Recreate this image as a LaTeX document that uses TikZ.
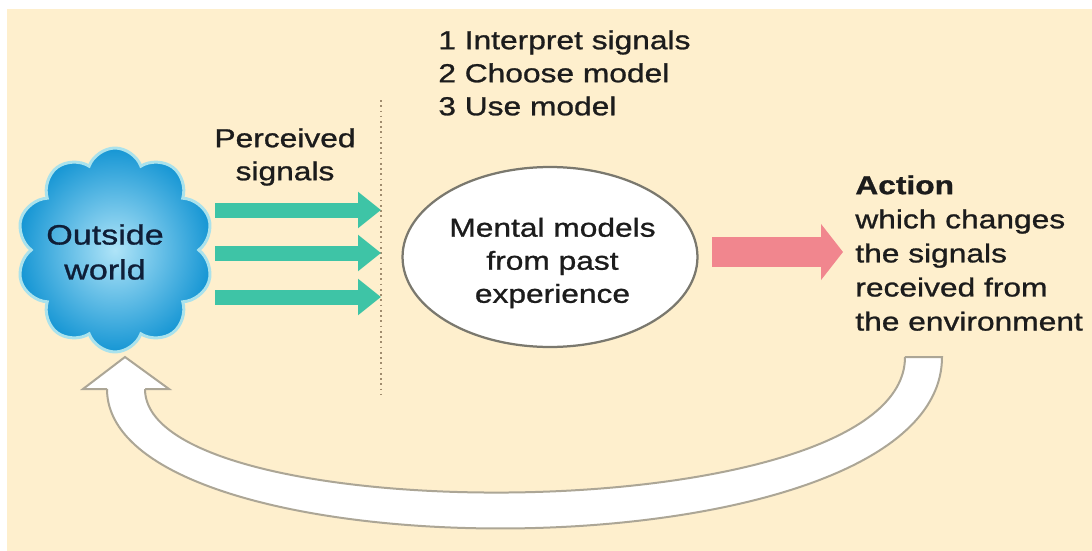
\documentclass[tikz,border=0pt]{standalone}
\usepackage{xcolor}
\usepackage{tikz}
\usepackage{fontspec}
\setmainfont{Liberation Sans}[FakeStretch=1.22,FakeBold=1.0]
\usetikzlibrary{positioning,calc,shapes.geometric,shapes.symbols,arrows.meta}
\definecolor{bgCream}{RGB}{254,239,205}
\definecolor{inkDark}{RGB}{28,28,28}
\definecolor{worldInk}{RGB}{15,30,55}
\definecolor{cloudOuter}{RGB}{22,150,212}
\definecolor{cloudInner}{RGB}{175,228,248}
\definecolor{cloudRim}{RGB}{170,226,236}
\definecolor{sigGreen}{RGB}{62,196,166}
\definecolor{actPink}{RGB}{241,134,142}
\definecolor{rimGray}{RGB}{172,166,150}
\definecolor{ovalGray}{RGB}{122,120,110}
\definecolor{dotBrown}{RGB}{160,140,110}

\begin{document}
\begin{tikzpicture}[x=0.02cm,y=-0.02cm,
    txt/.style={font=\fontsize{14.8}{18.8}\selectfont, text=inkDark, inner sep=0pt},
    sigArrow/.style={draw=sigGreen, line width=0.30cm, -{Triangle[length=0.46cm,width=0.70cm]}},
    actArrow/.style={draw=actPink, line width=0.62cm, -{Triangle[length=0.44cm,width=1.10cm]}},
    fbEdge/.style={draw=rimGray, line width=0.04cm},
    fbHead/.style={fill=white, draw=rimGray, line width=0.04cm}]
    % page and cream panel
    \useasboundingbox (0,0) rectangle (1092,551);
    \fill[bgCream] (7,9) rectangle (1092,551);

    % feedback arrow back to the outside world
    \coordinate (fbTailOut) at (942,357);
    \coordinate (fbTailIn) at (905,357);
    \coordinate (fbHeadOut) at (107,389);
    \coordinate (fbHeadIn) at (145,389);
    \filldraw[fbHead] (125,357) -- (169,389) -- (83,389) -- cycle;
    \fill[white] (fbTailOut) .. controls (942,580) and (107,580) .. (fbHeadOut)
        -- (107,385) -- (145,385) -- (fbHeadIn)
        .. controls (145,532) and (905,532) .. (fbTailIn) -- cycle;
    \draw[fbEdge] (fbTailIn) -- (fbTailOut) .. controls (942,580) and (107,580) .. (fbHeadOut);
    \draw[fbEdge] (fbHeadIn) .. controls (145,532) and (905,532) .. (fbTailIn);

    % outside world cloud
    \node[cloud, cloud puffs=10, cloud puff arc=140, aspect=1, inner sep=0pt,
          minimum width=3.95cm, minimum height=4.08cm,
          inner color=cloudInner, outer color=cloudOuter,
          draw=cloudRim, line width=0.06cm] (world) at (115,250) {};
    \node[txt, text=worldInk, align=center, font=\fontsize{15.9}{19.9}\selectfont]
          (worldtxt) at ([xshift=-0.2cm,yshift=-0.04cm]world.center) {Outside\\world};

    % perceived signals
    \node[txt, align=center, anchor=north] (perceived) at (285,128) {Perceived\\signals};
    \coordinate (dtop) at (381,100);
    \coordinate (dbot) at (381,395);
    \draw[dotBrown, line width=0.035cm, dash pattern=on 0.035cm off 0.07cm] (dtop) -- (dbot);
    \coordinate (sigL1) at (215,210);
    \coordinate (sigR1) at (381,210);
    \coordinate (sigL2) at (215,253);
    \coordinate (sigR2) at (381,253);
    \coordinate (sigL3) at (215,297);
    \coordinate (sigR3) at (381,297);
    \draw[sigArrow] (sigL1) -- (sigR1);
    \draw[sigArrow] (sigL2) -- (sigR2);
    \draw[sigArrow] (sigL3) -- (sigR3);

    % steps list
    \node[txt, align=left, anchor=north west] (steps) at (438,30)
          {1 Interpret signals\\2 Choose model\\3 Use model};

    % mental models oval
    \node[ellipse, draw=ovalGray, fill=white, line width=0.045cm,
          minimum width=5.9cm, minimum height=3.6cm] (mental) at (550,257) {};
    \node[txt, align=center] (mentaltxt) at ([xshift=0.05cm,yshift=-0.12cm]mental.center)
          {Mental models\\from past\\experience};

    % action
    \coordinate (actL) at (712,252);
    \coordinate (actR) at (843,252);
    \draw[actArrow] (actL) -- (actR);
    \node[txt, align=left, anchor=north west, font=\fontsize{14.8}{19.4}\selectfont]
          (action) at (855,175)
          {\textbf{Action}\\which changes\\the signals\\received from\\the environment};
\end{tikzpicture}
\end{document}
